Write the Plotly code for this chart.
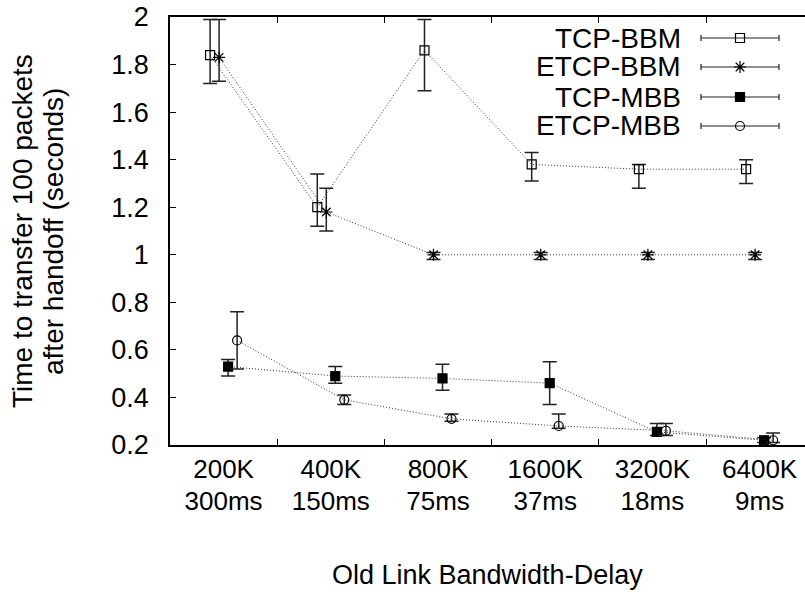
import plotly.graph_objects as go

categories_bw = ["200K", "400K", "800K", "1600K", "3200K", "6400K"]
categories_delay = ["300ms", "150ms", "75ms", "37ms", "18ms", "9ms"]

tcp_bbm = [1.84, 1.20, 1.86, 1.38, 1.36, 1.36]
tcp_bbm_hi = [1.99, 1.34, 1.99, 1.43, 1.38, 1.40]
tcp_bbm_lo = [1.72, 1.12, 1.69, 1.31, 1.28, 1.30]

etcp_bbm = [1.83, 1.18, 1.00, 1.00, 1.00, 1.00]
etcp_bbm_hi = [1.99, 1.28, 1.01, 1.01, 1.01, 1.01]
etcp_bbm_lo = [1.73, 1.10, 0.98, 0.98, 0.98, 0.98]

tcp_mbb = [0.53, 0.49, 0.48, 0.46, 0.255, 0.22]
tcp_mbb_hi = [0.56, 0.53, 0.54, 0.55, 0.29, 0.23]
tcp_mbb_lo = [0.49, 0.46, 0.43, 0.37, 0.24, 0.21]

etcp_mbb = [0.64, 0.39, 0.31, 0.28, 0.26, 0.22]
etcp_mbb_hi = [0.76, 0.41, 0.33, 0.33, 0.29, 0.25]
etcp_mbb_lo = [0.52, 0.37, 0.30, 0.27, 0.24, 0.21]

series = [
    ("TCP-BBM", tcp_bbm, tcp_bbm_hi, tcp_bbm_lo, -0.126, "square-open", 9),
    ("ETCP-BBM", etcp_bbm, etcp_bbm_hi, etcp_bbm_lo, -0.042, "asterisk-open", 10),
    ("TCP-MBB", tcp_mbb, tcp_mbb_hi, tcp_mbb_lo, 0.042, "square", 9),
    ("ETCP-MBB", etcp_mbb, etcp_mbb_hi, etcp_mbb_lo, 0.126, "circle-open", 9),
]

FONT = "Liberation Sans, Arial, Helvetica, sans-serif"
W, H = 805, 592
L, R, T, B = 170, 0, 17, 147
PW, PH = W - L - R, H - T - B

def px_x(p):
    return (p - L) / PW

def px_y(p):
    return (H - B - p) / PH

fig = go.Figure()
idx = list(range(len(categories_bw)))
for name, vals, hi, lo, off, sym, sz in series:
    xs = [i + off for i in idx]
    fig.add_trace(go.Scatter(
        x=xs, y=vals, mode="lines+markers", name=name, showlegend=False,
        line=dict(color="#333", width=1, dash="1px,2px"),
        marker=dict(symbol=sym, size=sz, color="black", line=dict(color="black", width=1.2)),
        error_y=dict(type="data", symmetric=False,
                     array=[h - v for h, v in zip(hi, vals)],
                     arrayminus=[v - l for v, l in zip(vals, lo)],
                     color="#222", thickness=1.5, width=7),
    ))

# legend drawn in a pixel-like overlay axis
leg_rows = [38, 67, 97, 126]
for (name, vals, hi, lo, off, sym, sz), ly in zip(series, leg_rows):
    fig.add_trace(go.Scatter(
        x=[740], y=[ly], mode="markers", xaxis="x2", yaxis="y2", showlegend=False,
        marker=dict(symbol=sym, size=sz, color="black", line=dict(color="black", width=1.2)),
        error_x=dict(type="constant", value=39, color="#222", thickness=1.2, width=3),
        hoverinfo="skip",
    ))
    fig.add_annotation(x=px_x(683), y=px_y(ly), xref="paper", yref="paper", text=name,
                       showarrow=False, xanchor="right", yanchor="middle",
                       font=dict(size=28, color="black", family=FONT))

for txt, xp in [("Time to transfer 100 packets", 22), ("after handoff (seconds)", 53)]:
    fig.add_annotation(x=px_x(xp), y=0.5, xref="paper", yref="paper", text=txt,
                       textangle=-90, showarrow=False, xanchor="center", yanchor="middle",
                       font=dict(size=28, color="black", family=FONT))
fig.add_annotation(x=0.5, y=px_y(575), xref="paper", yref="paper",
                   text="Old Link Bandwidth-Delay", showarrow=False,
                   xanchor="center", yanchor="middle",
                   font=dict(size=27, color="black", family=FONT))

right_edge = PW / 107.2 - 0.5
fig.update_layout(
    width=W, height=H, margin=dict(l=L, r=R, t=T, b=B, pad=0),
    paper_bgcolor="white", plot_bgcolor="white",
    font=dict(family=FONT, size=27, color="black"),
    xaxis=dict(range=[-0.5, right_edge], tickvals=idx, ticktext=categories_bw, ticks="",
               showgrid=False, zeroline=False, showline=True, linecolor="black", linewidth=1.5,
               mirror="ticks",
               minor=dict(tickvals=[i + 0.5 for i in idx[:-1]], ticks="inside", ticklen=6,
                          tickcolor="black", tickwidth=1.2, showgrid=False),
               tickfont=dict(size=26), ticklabelstandoff=0),
    xaxis3=dict(overlaying="x", matches="x", side="bottom", tickvals=idx, ticktext=categories_delay,
                ticks="", showgrid=False, zeroline=False, showline=False,
                tickfont=dict(size=26), ticklabelstandoff=38),
    yaxis=dict(range=[0.2, 2.0], dtick=0.2, tick0=0.2, ticks="inside", ticklen=6,
               tickcolor="black", tickwidth=1.2,
               showgrid=False, zeroline=False, showline=True, linecolor="black", linewidth=1.5,
               mirror=False, tickfont=dict(size=27), ticklabelstandoff=14),
    xaxis2=dict(overlaying="x", range=[L, W], visible=False, fixedrange=True),
    yaxis2=dict(overlaying="y", range=[H - B, T], visible=False, fixedrange=True),
    showlegend=False,
)
# dummy trace to activate the second tick-label axis
fig.add_trace(go.Scatter(x=[None], y=[None], xaxis="x3", yaxis="y", showlegend=False, hoverinfo="skip"))

fig.write_html("out.html")
